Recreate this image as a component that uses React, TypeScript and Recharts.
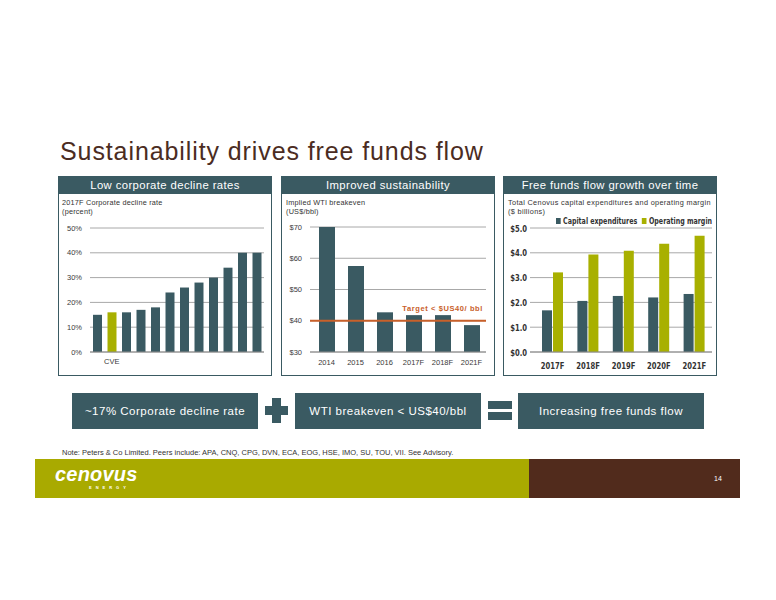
import React from 'react'
import { BarChart, Bar, XAxis, YAxis, CartesianGrid, Cell, ReferenceLine } from 'recharts'

// Low corporate decline rates (2017F, percent) - CVE is the highlighted bar
const peers = ['Peer A', 'CVE', 'Peer B', 'Peer C', 'Peer D', 'Peer E', 'Peer F', 'Peer G', 'Peer H', 'Peer I', 'Peer J', 'Peer K']
const declineRates = [15, 16, 16, 17, 18, 24, 26, 28, 30, 34, 40, 40]
const declineTicks = [0, 10, 20, 30, 40, 50]

// Implied WTI breakeven (US$/bbl)
const breakevenYears = ['2014', '2015', '2016', '2017F', '2018F', '2021F']
const breakevenValues = [70, 57.5, 42.7, 41.8, 41.8, 38.6]
const breakevenTicks = [30, 40, 50, 60, 70]
const breakevenTarget = 40

// Capital expenditures and operating margin ($ billions)
const fundsYears = ['2017F', '2018F', '2019F', '2020F', '2021F']
const capitalExpenditures = [1.68, 2.06, 2.26, 2.2, 2.34]
const operatingMargin = [3.21, 3.93, 4.08, 4.36, 4.69]
const fundsTicks = [0, 1, 2, 3, 4, 5]

const SLATE = '#3a5a62'
const GREEN = '#a8b000'
const ORANGE = '#c8602a'
const GRID = '#a8a8a8'
const SANS = 'Liberation Sans, Arial, Helvetica, sans-serif'
const CONDENSED = '"DejaVu Sans Condensed", "DejaVu Sans", sans-serif'

const declineData = peers.map((p, i) => ({ peer: p, rate: declineRates[i] }))
const breakevenData = breakevenYears.map((y, i) => ({ year: y, value: breakevenValues[i] }))
const fundsData = fundsYears.map((y, i) => ({ year: y, capex: capitalExpenditures[i], margin: operatingMargin[i] }))

const tickStyle = { fontSize: 7.5, fill: '#3a3a3a', fontFamily: SANS }

// squeezed bold tick, the original uses a narrow font
function NarrowTick(props: any) {
  const { x, y, payload, anchor, fmt, dy } = props
  const label = fmt ? fmt(payload.value) : payload.value
  return (
    <text
      transform={`translate(${x},${y}) scale(0.8,1)`} textAnchor={anchor} dy={dy}
      fontSize={9.5} fontWeight={700} fill="#333" fontFamily={CONDENSED}
    >
      {label}
    </text>
  )
}

function Panel({ left, title }: { left: number; title: string }) {
  return (
    <div
      style={{
        position: 'absolute', left, top: 176, width: 214, height: 200,
        border: `1.5px solid ${SLATE}`, boxSizing: 'border-box', background: '#fff',
      }}
    >
      <div
        style={{
          background: SLATE, color: '#fff', height: 17, lineHeight: '17px', textAlign: 'center',
          fontSize: 11.3, letterSpacing: 0.4, fontFamily: SANS, whiteSpace: 'nowrap',
        }}
      >
        {title}
      </div>
    </div>
  )
}

function Subtitle({ left, lines, spacing = 0.2 }: { left: number; lines: string[]; spacing?: number }) {
  return (
    <div style={{ position: 'absolute', left, top: 198, fontSize: 7.3, lineHeight: '9px', color: '#333', fontFamily: SANS, letterSpacing: spacing, whiteSpace: 'nowrap' }}>
      {lines.map((l) => <div key={l}>{l}</div>)}
    </div>
  )
}

function BottomBox({ left, text }: { left: number; text: string }) {
  return (
    <div
      style={{
        position: 'absolute', left, top: 393, width: 186, height: 36, background: SLATE,
        color: '#fff', fontSize: 11.5, letterSpacing: 0.5, lineHeight: '36px', textAlign: 'center', fontFamily: SANS,
      }}
    >
      {text}
    </div>
  )
}

export default function App() {
  return (
    <div style={{ position: 'relative', width: 776, height: 600, margin: -8, background: '#fff', overflow: 'hidden', fontFamily: SANS }}>
      <div style={{ position: 'absolute', left: 60, top: 139, fontSize: 25, lineHeight: '25px', color: '#4b2c22', letterSpacing: 0.9, whiteSpace: 'nowrap' }}>
        Sustainability drives free funds flow
      </div>

      <Panel left={58} title="Low corporate decline rates" />
      <Panel left={281} title="Improved sustainability" />
      <Panel left={503} title="Free funds flow growth over time" />

      <Subtitle left={62} lines={['2017F Corporate decline rate', '(percent)']} />
      <Subtitle left={286} lines={['Implied WTI breakeven', '(US$/bbl)']} />
      <Subtitle left={508} lines={['Total Cenovus capital expenditures and operating margin', '($ billions)']} spacing={0.34} />

      {/* decline rates */}
      <div style={{ position: 'absolute', left: 55, top: 215 }}>
        <BarChart width={215} height={165} data={declineData} margin={{ top: 13, right: 6, bottom: 0, left: 0 }}>
          <CartesianGrid vertical={false} stroke={GRID} />
          <XAxis
            dataKey="peer" height={28} tickLine={false} axisLine={{ stroke: '#8c8c8c' }} tickMargin={1}
            interval={0} tick={tickStyle} tickFormatter={(v: string) => (v === 'CVE' ? 'CVE' : '')}
          />
          <YAxis
            width={35} domain={[0, 50]} ticks={declineTicks} tickLine={false} axisLine={false}
            tick={tickStyle} tickFormatter={(v: number) => `${v}%`}
          />
          <Bar dataKey="rate" barSize={9} isAnimationActive={false}>
            {declineData.map((d) => <Cell key={d.peer} fill={d.peer === 'CVE' ? GREEN : SLATE} />)}
          </Bar>
        </BarChart>
      </div>

      {/* breakeven */}
      <div style={{ position: 'absolute', left: 282, top: 214 }}>
        <BarChart width={211} height={166} data={breakevenData} margin={{ top: 13, right: 7, bottom: 0, left: 0 }}>
          <CartesianGrid vertical={false} stroke={GRID} />
          <XAxis dataKey="year" height={28} tickLine={false} axisLine={{ stroke: '#8c8c8c' }} padding={{ left: 2, right: 0 }} tick={tickStyle} interval={0} />
          <YAxis
            width={28} domain={[30, 70]} ticks={breakevenTicks} tickLine={false} axisLine={false}
            tick={tickStyle} tickFormatter={(v: number) => `$${v}`}
          />
          <Bar dataKey="value" fill={SLATE} barSize={16} isAnimationActive={false} />
          <ReferenceLine
            y={breakevenTarget} stroke={ORANGE} strokeWidth={2}
            label={(p: any) => {
              const vb = p.viewBox || { x: 0, y: 0, width: 0 }
              return (
                <text
                  x={vb.x + vb.width - 3} y={vb.y - 10} textAnchor="end" fill={ORANGE}
                  fontSize={7.5} fontWeight={700} fontFamily={SANS} letterSpacing={0.6}
                >
                  Target &lt; $US40/ bbl
                </text>
              )
            }}
          />
        </BarChart>
      </div>

      {/* free funds flow */}
      <div style={{ position: 'absolute', left: 503, top: 210 }}>
        <BarChart width={213} height={170} data={fundsData} margin={{ top: 18, right: 4, bottom: 0, left: 0 }} barGap={1}>
          <CartesianGrid vertical={false} stroke={GRID} />
          <XAxis
            dataKey="year" height={28} tickLine={false} axisLine={{ stroke: '#8c8c8c' }} padding={{ left: 5, right: 0 }}
            interval={0} tick={<NarrowTick anchor="middle" dy={8.5} />}
          />
          <YAxis
            width={27} domain={[0, 5]} ticks={fundsTicks} tickLine={false} axisLine={false} tickSize={0} tickMargin={3}
            tick={<NarrowTick anchor="end" dy={3.5} fmt={(v: number) => `$${v.toFixed(1)}`} />}
          />
          <Bar dataKey="capex" name="Capital expenditures" fill={SLATE} barSize={10} isAnimationActive={false} />
          <Bar dataKey="margin" name="Operating margin" fill={GREEN} barSize={10} isAnimationActive={false} />
        </BarChart>
      </div>
      <div
        style={{
          position: 'absolute', left: 556, top: 216, display: 'flex', alignItems: 'center', fontFamily: CONDENSED,
          fontWeight: 700, fontSize: 9, color: '#333', whiteSpace: 'nowrap', transform: 'scaleX(0.78)', transformOrigin: 'left center',
        }}
      >
        <span style={{ width: 6, height: 6, background: SLATE, marginRight: 3 }} />
        <span style={{ marginRight: 6 }}>Capital expenditures</span>
        <span style={{ width: 6, height: 6, background: GREEN, marginRight: 3 }} />
        <span>Operating margin</span>
      </div>

      {/* equation row */}
      <BottomBox left={72} text="~17% Corporate decline rate" />
      <div style={{ position: 'absolute', left: 272, top: 398, width: 9, height: 25, background: SLATE }} />
      <div style={{ position: 'absolute', left: 265, top: 406, width: 23, height: 9, background: SLATE }} />
      <BottomBox left={295} text="WTI breakeven < US$40/bbl" />
      <div style={{ position: 'absolute', left: 488, top: 401, width: 24, height: 8, background: SLATE }} />
      <div style={{ position: 'absolute', left: 488, top: 412, width: 24, height: 8, background: SLATE }} />
      <BottomBox left={518} text="Increasing free funds flow" />

      <div style={{ position: 'absolute', left: 62, top: 448, fontSize: 7.5, color: '#333', whiteSpace: 'nowrap' }}>
        Note: Peters &amp; Co Limited. Peers include: APA, CNQ, CPG, DVN, ECA, EOG, HSE, IMO, SU, TOU, VII. See Advisory.
      </div>

      {/* footer */}
      <div style={{ position: 'absolute', left: 35, top: 459, width: 494, height: 39, background: '#a9aa00' }} />
      <div style={{ position: 'absolute', left: 529, top: 459, width: 211, height: 39, background: '#512b1c' }} />
      <div style={{ position: 'absolute', left: 55, top: 464, fontSize: 20, lineHeight: '20px', fontWeight: 700, fontStyle: 'italic', color: '#fff', letterSpacing: 0.2 }}>
        cenovus
      </div>
      <div style={{ position: 'absolute', left: 89, top: 486, fontSize: 4, lineHeight: '4px', fontWeight: 700, color: '#fff', letterSpacing: 4 }}>
        ENERGY
      </div>
      <div style={{ position: 'absolute', left: 714, top: 475, fontSize: 7, color: '#fff' }}>14</div>
    </div>
  )
}
